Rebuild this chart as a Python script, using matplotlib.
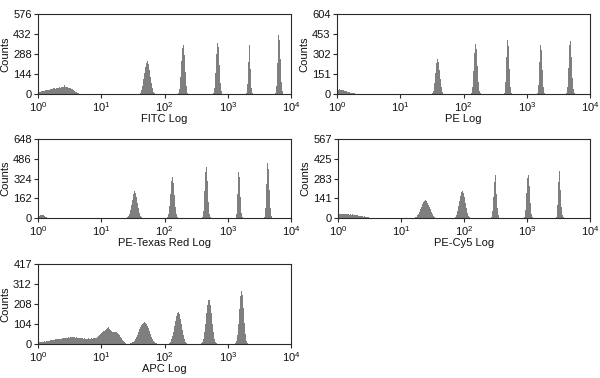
import numpy as np
import matplotlib
matplotlib.use("Agg")
import matplotlib.pyplot as plt

plt.rcParams['font.family'] = ['Liberation Sans', 'DejaVu Sans']
plt.rcParams['mathtext.fontset'] = 'custom'
plt.rcParams['mathtext.rm'] = 'Liberation Sans'
plt.rcParams['mathtext.it'] = 'Liberation Sans'

# 256 channels over 4 decades (64 channels per decade)
N_CH = 256
CH_PER_DECADE = 64

x_tick_labels = [r'$10^{0}$', r'$10^{1}$', r'$10^{2}$', r'$10^{3}$', r'$10^{4}$']

# ---- FITC ----
fitc_label = 'FITC Log'
fitc_ymax = 576
fitc_yticklabels = ['0', '144', '288', '432', '576']
fitc_starts = [0, 102, 142, 177, 210, 240]
fitc_counts = [
    [77, 18, 16, 20, 22, 21, 25, 27, 26, 30, 32, 31, 35, 37, 36, 40, 42, 39, 44, 45, 43,
     47, 46, 50, 48, 52, 66, 49, 47, 51, 45, 44, 40, 38, 33, 28, 24, 18, 13, 8, 5, 2],
    [3, 10, 28, 60, 105, 150, 195, 225, 237, 215, 175, 125, 78, 40, 15, 4],
    [6, 35, 120, 240, 330, 351, 280, 160, 55, 10],
    [5, 40, 150, 290, 370, 340, 210, 80, 20, 3],
    [10, 70, 230, 387, 350, 180, 45, 6],
    [8, 60, 220, 428, 390, 250, 90, 20, 3],
]

# ---- PE ----
pe_label = 'PE Log'
pe_ymax = 604
pe_yticklabels = ['0', '151', '302', '453', '604']
pe_starts = [0, 96, 136, 169, 202, 232]
pe_counts = [
    [35, 33, 36, 30, 32, 28, 27, 24, 22, 20, 17, 15, 13, 11, 9, 7, 5, 4, 3, 2, 1],
    [5, 25, 80, 160, 235, 262, 240, 180, 110, 50, 15, 3],
    [8, 50, 170, 310, 378, 340, 210, 90, 25, 4],
    [10, 90, 280, 408, 360, 190, 50, 6],
    [8, 70, 240, 370, 330, 180, 50, 8],
    [5, 50, 200, 370, 403, 280, 120, 35, 8, 2],
]

# ---- PE-Texas Red ----
petr_label = 'PE-Texas Red Log'
petr_ymax = 648
petr_yticklabels = ['0', '162', '324', '486', '648']
petr_starts = [0, 89, 131, 166, 200, 229]
petr_counts = [
    [8, 18, 24, 27, 26, 22, 15, 10, 6, 4, 3, 2, 3, 2, 3, 2, 1, 2, 1, 1],
    [2, 6, 15, 35, 65, 105, 150, 195, 218, 205, 170, 125, 80, 45, 20, 7, 2],
    [5, 30, 100, 200, 300, 340, 290, 190, 90, 30, 5],
    [6, 60, 220, 380, 422, 300, 130, 35, 5],
    [30, 200, 381, 340, 170, 40, 5],
    [8, 80, 280, 449, 400, 230, 80, 20, 3],
]

# ---- PE-Cy5 ----
pecy5_label = 'PE-Cy5 Log'
pecy5_ymax = 567
pecy5_yticklabels = ['0', '141', '283', '425', '567']
pecy5_starts = [0, 77, 118, 155, 189, 221]
pecy5_counts = [
    [26, 28, 30, 27, 29, 31, 28, 30, 27, 26, 29, 25, 27, 24, 26, 22, 24, 21, 20, 18, 17,
     15, 16, 13, 12, 10, 11, 8, 6, 5, 4, 2, 1],
    [2, 5, 10, 18, 30, 45, 62, 80, 98, 112, 122, 126, 120, 110, 96, 80, 62, 46, 32, 20,
     12, 6, 3, 1],
    [3, 10, 25, 50, 85, 125, 160, 185, 195, 180, 150, 110, 70, 38, 16, 6, 2],
    [8, 50, 150, 260, 309, 270, 170, 70, 18, 3],
    [8, 60, 180, 290, 309, 230, 110, 30, 5],
    [10, 90, 260, 385, 340, 200, 80, 20, 4],
]

# ---- APC ----
apc_label = 'APC Log'
apc_ymax = 417
apc_yticklabels = ['0', '104', '208', '312', '417']
apc_starts = [0, 90, 132, 165, 199]
apc_counts = [
    [18, 10, 12, 11, 13, 12, 14, 13, 15, 16,
     17, 18, 19, 21, 20, 22, 23, 24, 25, 24,
     26, 27, 28, 27, 29, 30, 31, 30, 32, 33,
     34, 33, 36, 35, 34, 36, 35, 33, 34, 32,
     33, 31, 30, 31, 29, 30, 28, 29, 27, 28,
     27, 29, 28, 27, 29, 28, 30, 29, 31, 30,
     34, 40, 45, 50, 55, 62, 66, 70, 75, 80,
     84, 87, 80, 72, 66, 62, 64, 63, 61, 60,
     57, 52, 46, 38, 30, 22, 15, 9, 5, 2],
    [2, 1, 2, 3, 5, 8, 12, 18, 26, 36, 48, 62, 76, 88, 98, 106, 111, 113, 110, 104, 95,
     82, 68, 53, 39, 27, 17, 10, 5, 3, 1, 1],
    [2, 5, 12, 24, 42, 65, 92, 120, 145, 162, 165, 155, 132, 102, 72, 45, 24, 11, 4, 1],
    [3, 10, 28, 60, 105, 160, 205, 228, 231, 205, 160, 105, 60, 28, 11, 4, 1],
    [4, 15, 45, 105, 185, 250, 278, 255, 190, 110, 50, 18, 5, 1],
]

panels = [
    (fitc_label, fitc_ymax, fitc_yticklabels, fitc_starts, fitc_counts, (38, 14, 291, 94)),
    (pe_label, pe_ymax, pe_yticklabels, pe_starts, pe_counts, (337, 14, 590, 94)),
    (petr_label, petr_ymax, petr_yticklabels, petr_starts, petr_counts, (38, 139, 291, 218)),
    (pecy5_label, pecy5_ymax, pecy5_yticklabels, pecy5_starts, pecy5_counts, (338, 139, 590, 218)),
    (apc_label, apc_ymax, apc_yticklabels, apc_starts, apc_counts, (38, 264, 291, 344)),
]

W, H = 600, 378
fig = plt.figure(figsize=(6.0, 3.78), dpi=100)
edges = 10.0 ** (np.arange(N_CH + 1) / CH_PER_DECADE)
spine_col = '#2a2a2a'
bar_col = '#7f7f7f'

for label, ymax, ylabels, starts, segs, (x0, y0, x1, y1) in panels:
    ax = fig.add_axes([x0 / W, 1 - y1 / H, (x1 - x0) / W, (y1 - y0) / H])
    hist = np.zeros(N_CH)
    for s, seg in zip(starts, segs):
        hist[s:s + len(seg)] = seg
    ax.stairs(hist, edges, fill=True, color=bar_col, linewidth=0)
    ax.set_xscale('log')
    ax.set_xlim(1, 1e4)
    ax.set_ylim(0, ymax)
    ax.set_xticks([1, 10, 100, 1000, 10000])
    ax.set_xticklabels(x_tick_labels)
    ax.xaxis.set_minor_locator(matplotlib.ticker.NullLocator())
    ax.set_yticks([ymax * i / 4 for i in range(5)])
    ax.set_yticklabels(ylabels)
    ax.tick_params(axis='both', direction='out', length=3, width=0.8, color=spine_col,
                   labelsize=8, pad=1.5, labelcolor='#111111')
    for sp in ax.spines.values():
        sp.set_color(spine_col)
        sp.set_linewidth(0.8)
    ax.set_xlabel(label, fontsize=8, labelpad=0, color='#111111')
    ax.set_ylabel('Counts', fontsize=8, labelpad=2, color='#111111')

fig.savefig('out.png', dpi=100)
